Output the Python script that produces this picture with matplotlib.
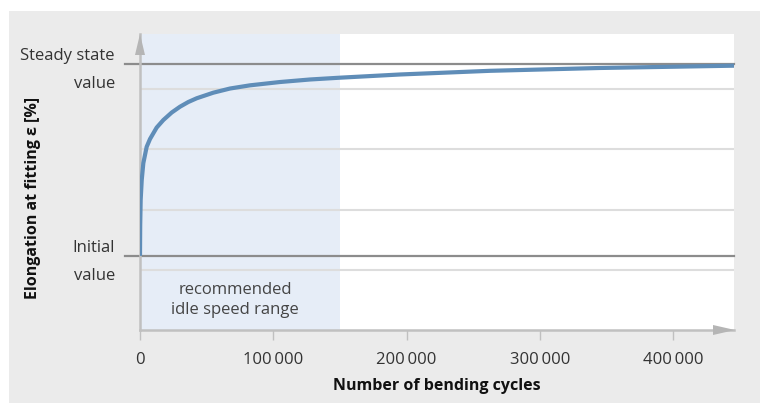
import matplotlib
matplotlib.use("Agg")
import matplotlib.pyplot as plt
from matplotlib.patches import Rectangle, Polygon
from matplotlib import transforms

# --- data -------------------------------------------------------------
cycles = [0, 150, 500, 1300, 2500, 5000, 7500, 12500, 17500, 23800, 30000,
          36200, 42500, 55000, 67500, 82500, 105000, 127500, 150000, 195000,
          262500, 345000, 445500]
elongation = [1.23, 1.74, 2.16, 2.49, 2.77, 3.04, 3.17, 3.36, 3.485, 3.61,
              3.706, 3.784, 3.846, 3.939, 4.008, 4.061, 4.116, 4.158, 4.188,
              4.241, 4.302, 4.349, 4.387]
initial_value = 1.23
steady_value = 4.42
grid_levels = [1, 2, 3, 4]
idle_range = (0, 150000)
xticks = [0, 100000, 200000, 300000, 400000]
xtick_labels = ["0", "100\u2009000", "200\u2009000", "300\u2009000", "400\u2009000"]
x_max = 445500
y_max = 4.913

plt.rcParams["font.family"] = ["Open Sans", "DejaVu Sans"]

W, H = 760, 403
fig = plt.figure(figsize=(W / 100, H / 100), dpi=100, facecolor="white")

# grey panel behind the chart
fig.patches.append(Rectangle((9 / W, 0), 1 - 9 / W, (H - 11) / H,
                             transform=fig.transFigure, facecolor="#ebebeb",
                             edgecolor="none", zorder=-10))

left, right, top, bottom = 140, 734, 34, 330
ax = fig.add_axes([left / W, (H - bottom) / H, (right - left) / W, (bottom - top) / H])
ax.set_facecolor("white")
ax.set_xlim(0, x_max)
ax.set_ylim(0, y_max)

ax.axvspan(*idle_range, color="#e6edf7", zorder=0, lw=0)

for g in grid_levels:
    ax.axhline(g, color="#dddddd", lw=1.5, zorder=1)

axw = right - left
for lvl in (initial_value, steady_value):
    ax.plot([-15 / axw, 1], [lvl, lvl], transform=ax.get_yaxis_transform(),
            color="#8c8c8c", lw=1.6, clip_on=False, zorder=2)

ax.plot(cycles, elongation, color="#5f8db8", lw=3.0, zorder=4,
        solid_capstyle="butt", solid_joinstyle="round")

# axes with arrow heads
for s in ("top", "right"):
    ax.spines[s].set_visible(False)
for s in ("left", "bottom"):
    ax.spines[s].set_color("#c0c0c0")
    ax.spines[s].set_linewidth(1.8)
    ax.spines[s].set_zorder(3)

def fpt(x, y):
    return (x / W, 1 - y / H)

fig.patches.append(Polygon([fpt(140, 34), fpt(135, 55), fpt(145, 55)], closed=True,
                           transform=fig.transFigure, facecolor="#b5b5b5",
                           edgecolor="none", zorder=5))
fig.patches.append(Polygon([fpt(735, 330), fpt(713, 325), fpt(713, 335)], closed=True,
                           transform=fig.transFigure, facecolor="#b5b5b5",
                           edgecolor="none", zorder=5))

ax.set_yticks([])
ax.set_xticks(xticks)
ax.set_xticklabels(xtick_labels, fontsize=12, color="#333333")
ax.tick_params(axis="x", length=7.5, width=1, color="#c0c0c0", pad=8)

# labels for the two reference levels
ytr = ax.get_yaxis_transform()
for lvl, (l1, l2) in ((steady_value, ("Steady state", "value")),
                      (initial_value, ("Initial", "value"))):
    t1 = transforms.offset_copy(ytr, fig=fig, x=-25, y=4, units="dots")
    t2 = transforms.offset_copy(ytr, fig=fig, x=-25, y=-24, units="dots")
    ax.text(0, lvl, l1, transform=t1, ha="right", va="baseline", fontsize=12,
            color="#333333")
    ax.text(0, lvl, l2, transform=t2, ha="right", va="baseline", fontsize=12,
            color="#333333")

ax.text(sum(idle_range) / 2, 0.0, "recommended\nidle speed range",
        transform=transforms.offset_copy(ax.transData, fig=fig, x=-5, y=30, units="dots"),
        ha="center", va="center", fontsize=12, color="#444444", linespacing=1.35)

fig.text(437 / W, 1 - 386 / H, "Number of bending cycles", ha="center", va="center",
         fontsize=11.5, fontweight="bold", color="#111111")
fig.text(33 / W, 1 - 198 / H, "Elongation at fitting \u03b5 [%]", ha="center", va="center",
         rotation=90, fontsize=11.5, fontweight="bold", color="#111111")

fig.savefig("out.png", dpi=100, facecolor="white")
